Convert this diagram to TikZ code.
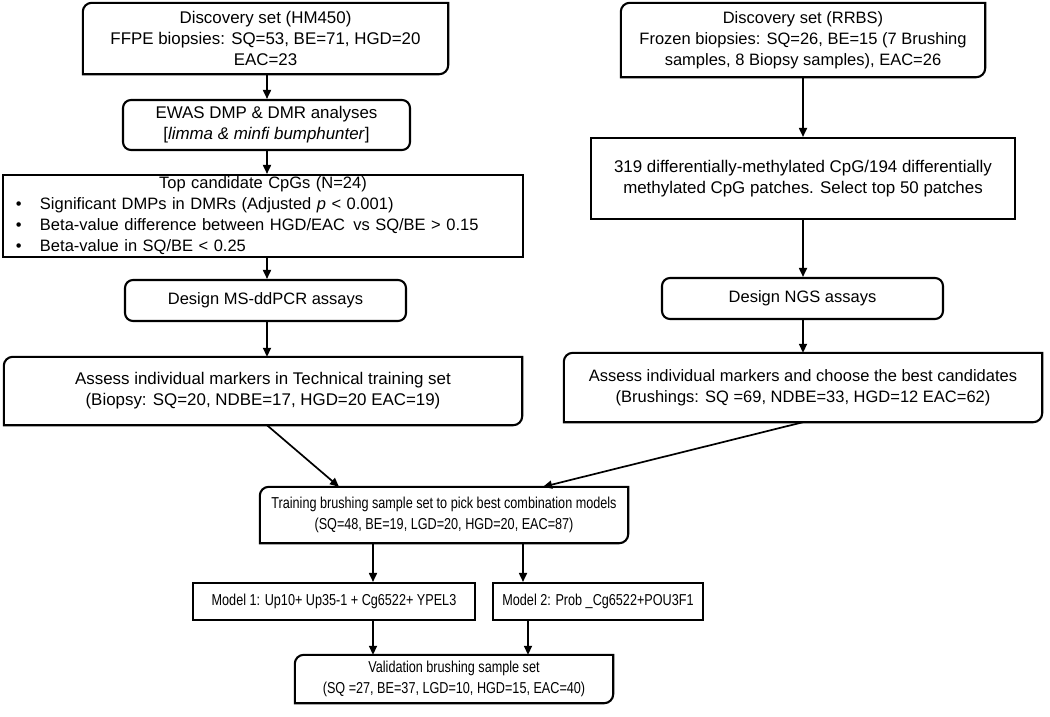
\documentclass[tikz,border=0pt]{standalone}
\usepackage{fontspec}
\setmainfont{Liberation Sans}
\newfontfamily\narrowfont[FakeStretch=0.8]{Liberation Sans}
\usetikzlibrary{arrows.meta,calc}
\tikzset{
  base/.style={inner sep=0pt, align=center, font=\fontsize{16.5}{21}\selectfont},
  bigtxt/.style={font=\fontsize{16.9}{21}\selectfont},
  smalltxt/.style={font=\narrowfont\fontsize{15.8}{21}\selectfont},
  sqbox/.style={base, draw, line width=2.1pt},
  rndbox/.style={base, draw, line width=2.1pt, rounded corners=8pt},
  dgbox/.style={base},
  arr/.style={line width=1.7pt, -{Triangle[length=9pt,width=8pt]}},
  edge/.style={line width=2.1pt},
}
\newcommand\diagborder[1]{%
  \draw[edge] ([yshift=-9pt]#1.north west) arc[start angle=180,end angle=90,radius=9pt]
    -- (#1.north east) -- ([yshift=9pt]#1.south east)
    arc[start angle=0,end angle=-90,radius=9pt] -- (#1.south west) -- cycle;}
\begin{document}
\begin{tikzpicture}[x=1pt,y=1pt]
\useasboundingbox (0,0) rectangle (1050,-716);
\fill[white] (0,0) rectangle (1050,-716);

% left column
\node[dgbox, bigtxt, minimum width=365pt, minimum height=71pt] (hm) at (265.5,-38.5)
  {Discovery set (HM450)\\FFPE biopsies: SQ=53, BE=71, HGD=20\\EAC=23};
\diagborder{hm}
\node[rndbox, bigtxt, minimum width=287pt, minimum height=50pt] (ewas) at (266.5,-125)
  {EWAS DMP \& DMR analyses\\{[}\textit{limma \& minfi bumphunter}{]}};
\node[sqbox, minimum width=520pt, minimum height=82pt, text width=508pt, align=left] (top) at (263,-216)
  {\makebox[508pt]{Top candidate CpGs (N=24)}\\
   \hspace*{7pt}\makebox[24pt][l]{\textbullet}Significant DMPs in DMRs (Adjusted \textit{p} < 0.001)\\
   \hspace*{7pt}\makebox[24pt][l]{\textbullet}Beta-value difference between HGD/EAC\, vs SQ/BE > 0.15\\
   \hspace*{7pt}\makebox[24pt][l]{\textbullet}Beta-value in SQ/BE < 0.25};
\node[rndbox, minimum width=281pt, minimum height=41pt] (msdd) at (265.5,-300.5)
  {Design MS-ddPCR assays};
\node[dgbox, bigtxt, minimum width=518pt, minimum height=68pt] (assL) at (263,-391)
  {Assess individual markers in Technical training set\\(Biopsy: SQ=20, NDBE=17, HGD=20 EAC=19)};
\diagborder{assL}

% right column
\node[dgbox, minimum width=364pt, minimum height=74pt] (rrbs) at (803,-40)
  {Discovery set (RRBS)\\Frozen biopsies: SQ=26, BE=15 (7 Brushing\\samples, 8 Biopsy samples), EAC=26};
\diagborder{rrbs}
\node[sqbox, bigtxt, minimum width=424pt, minimum height=81pt] (dmc) at (803,-178.5)
  {319 differentially-methylated CpG/194 differentially\\methylated CpG patches. Select top 50 patches};
\node[rndbox, minimum width=281pt, minimum height=41pt] (ngs) at (802.5,-298.5)
  {Design NGS assays};
\node[dgbox, minimum width=478pt, minimum height=69pt] (assR) at (803,-387.5)
  {Assess individual markers and choose the best candidates\\(Brushings: SQ =69, NDBE=33, HGD=12 EAC=62)};
\diagborder{assR}

% bottom
\node[dgbox, smalltxt, minimum width=368pt, minimum height=56pt] (train) at (444,-515)
  {Training brushing sample set to pick best combination models\\(SQ=48, BE=19, LGD=20, HGD=20, EAC=87)};
\diagborder{train}
\node[sqbox, smalltxt, minimum width=282pt, minimum height=37pt] (m1) at (334,-601.5)
  {Model 1: Up10+ Up35-1 + Cg6522+ YPEL3};
\node[sqbox, smalltxt, minimum width=210pt, minimum height=37pt] (m2) at (598,-601.5)
  {Model 2: Prob \_Cg6522+POU3F1};
\node[dgbox, smalltxt, minimum width=318pt, minimum height=48pt] (val) at (454,-679)
  {Validation brushing sample set\\(SQ =27, BE=37, LGD=10, HGD=15, EAC=40)};
\diagborder{val}

% connectors
\draw[arr] (hm.south -| 267,0) -- (ewas.north -| 267,0);
\draw[arr] (ewas.south -| 267,0) -- (top.north -| 267,0);
\draw[arr] (top.south -| 267,0) -- (msdd.north -| 267,0);
\draw[arr] (msdd.south -| 267,0) -- (assL.north -| 267,0);
\draw[arr] (rrbs.south -| 803,0) -- (dmc.north -| 803,0);
\draw[arr] (dmc.south -| 803,0) -- (ngs.north -| 803,0);
\draw[arr] (ngs.south -| 803,0) -- (assR.north -| 803,0);
\draw[arr] (assL.south -| 267,0) -- (train.north -| 339,0);
\draw[arr] (assR.south -| 803,0) -- (train.north -| 543,0);
\draw[arr] (train.south -| 373,0) -- (m1.north -| 373,0);
\draw[arr] (train.south -| 523,0) -- (m2.north -| 523,0);
\draw[arr] (m1.south -| 373,0) -- (val.north -| 373,0);
\draw[arr] (m2.south -| 528,0) -- (val.north -| 528,0);
\end{tikzpicture}
\end{document}
